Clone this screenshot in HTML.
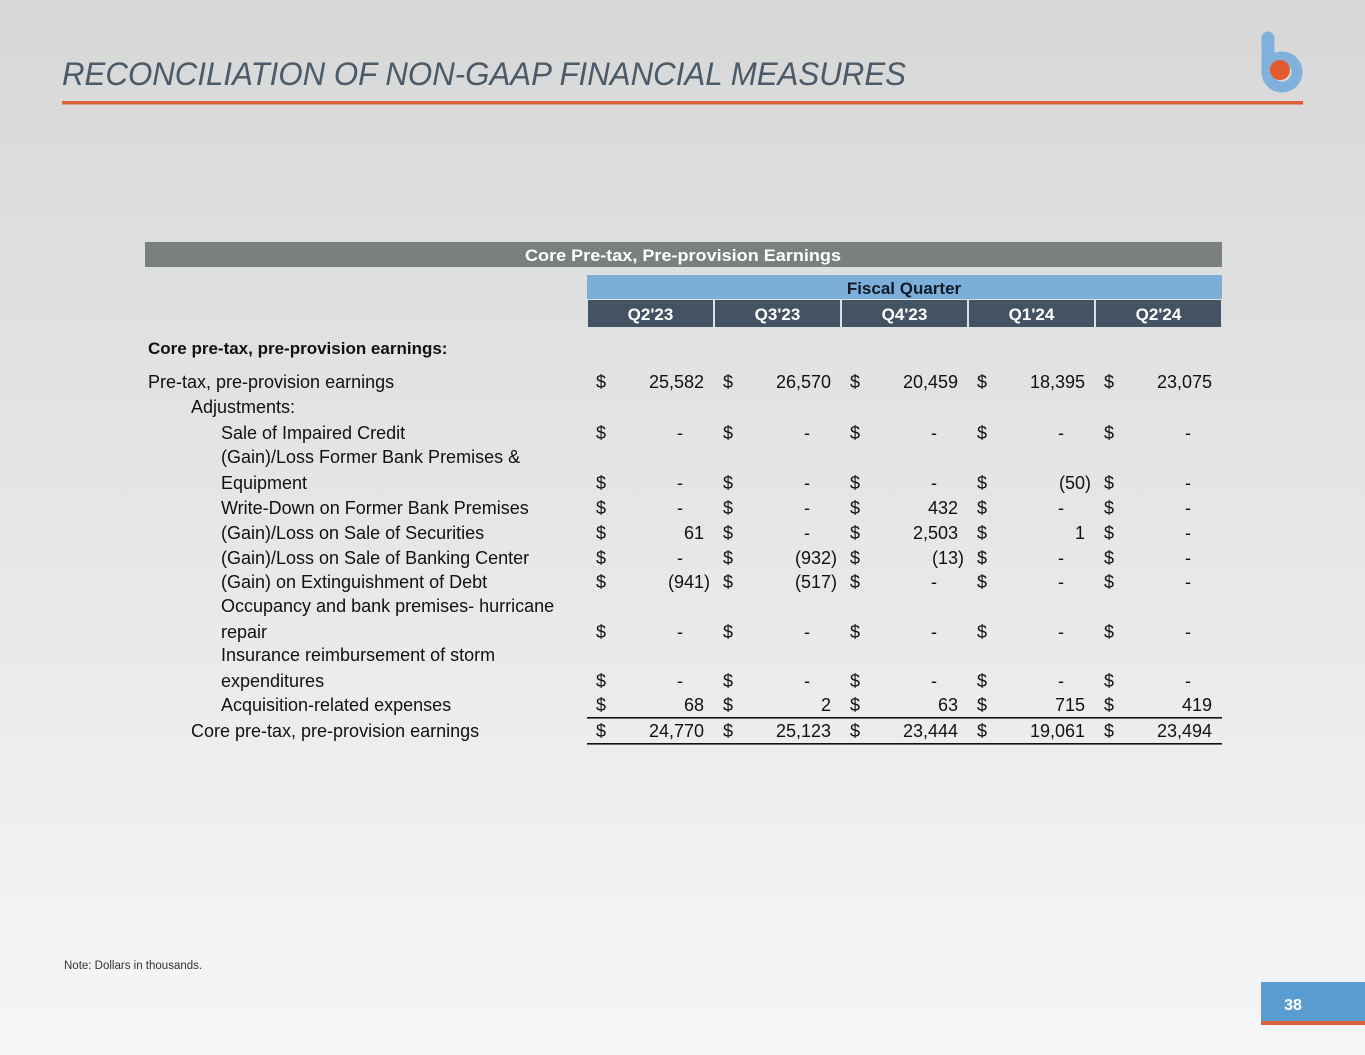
<!DOCTYPE html>
<html><head><meta charset="utf-8"><style>
html,body{margin:0;padding:0;}
body{width:1365px;height:1055px;overflow:hidden;background:linear-gradient(#d7d7d7,#f4f6f8);font-family:"Liberation Sans",sans-serif;}
svg{display:block}
</style></head><body>
<svg id="s" width="1365" height="1055" xmlns="http://www.w3.org/2000/svg" font-family="Liberation Sans, sans-serif">
<text x="62" y="85" font-size="32" font-style="italic" fill="#4a5a68" textLength="844" lengthAdjust="spacingAndGlyphs">RECONCILIATION OF NON-GAAP FINANCIAL MEASURES</text>
<rect x="62" y="101" width="1241" height="3.5" fill="#d9603a"/>
<g>
<line x1="1268" y1="38" x2="1268" y2="70" stroke="#7fb1dc" stroke-width="13" stroke-linecap="round"/>
<circle cx="1282" cy="72" r="15" fill="none" stroke="#7fb1dc" stroke-width="11"/>
<circle cx="1280" cy="70" r="10" fill="#e35a2e"/>
</g>
<rect x="145" y="242" width="1077" height="25" fill="#7a807f"/>
<text x="683" y="261" font-size="17" font-weight="bold" fill="#fff" text-anchor="middle" textLength="316" lengthAdjust="spacingAndGlyphs">Core Pre-tax, Pre-provision Earnings</text>
<rect x="587" y="275" width="635" height="24" fill="#7bafd9"/>
<text x="904" y="294" font-size="17" font-weight="bold" fill="#0f1a28" text-anchor="middle">Fiscal Quarter</text>
<g id="hdr"></g>
<g id="body"></g>
<text x="64" y="969" font-size="11.5" fill="#333">Note: Dollars in thousands.</text>
<rect x="1261" y="982" width="104" height="39" fill="#5c9dd1"/>
<rect x="1261" y="1021" width="104" height="4" fill="#d9603a"/>
<text x="1293" y="1010" font-size="16" font-weight="bold" fill="#fff" text-anchor="middle">38</text>
</svg>
<script>
const quarters=["Q2'23","Q3'23","Q4'23","Q1'24","Q2'24"];
const labels=[
 {t:["Core pre-tax, pre-provision earnings:"],x:148,y:354,b:1},
 {t:["Pre-tax, pre-provision earnings"],x:148,y:388},
 {t:["Adjustments:"],x:191,y:413},
 {t:["Sale of Impaired Credit"],x:221,y:439},
 {t:["(Gain)/Loss Former Bank Premises &","Equipment"],x:221,y:463},
 {t:["Write-Down on Former Bank Premises"],x:221,y:514},
 {t:["(Gain)/Loss on Sale of Securities"],x:221,y:539},
 {t:["(Gain)/Loss on Sale of Banking Center"],x:221,y:564},
 {t:["(Gain) on Extinguishment of Debt"],x:221,y:588},
 {t:["Occupancy and bank premises- hurricane","repair"],x:221,y:612},
 {t:["Insurance reimbursement of storm","expenditures"],x:221,y:661},
 {t:["Acquisition-related expenses"],x:221,y:711},
 {t:["Core pre-tax, pre-provision earnings"],x:191,y:737}
];
const rowY=[388,439,489,514,539,564,588,638,687,711,737];
const preTax=[25582,26570,20459,18395,23075];
const saleImpaired=[0,0,0,0,0];
const premisesEquip=[0,0,0,-50,0];
const writeDown=[0,0,432,0,0];
const securities=[61,0,2503,1,0];
const bankingCenter=[0,-932,-13,0,0];
const extinguish=[-941,-517,0,0,0];
const hurricane=[0,0,0,0,0];
const insurance=[0,0,0,0,0];
const acquisition=[68,2,63,715,419];
const core=[24770,25123,23444,19061,23494];
const series=[preTax,saleImpaired,premisesEquip,writeDown,securities,bankingCenter,extinguish,hurricane,insurance,acquisition,core];
const NS="http://www.w3.org/2000/svg";
const hdr=document.getElementById('hdr'),body=document.getElementById('body');
const colX=i=>587+i*127;
function mk(p,tag,a,txt){const e=document.createElementNS(NS,tag);for(const k in a)e.setAttribute(k,a[k]);if(txt!=null)e.textContent=txt;p.appendChild(e);return e;}
quarters.forEach((q,i)=>{
 const r=mk(hdr,'rect',{x:colX(i)+1,y:300,width:125,height:27,fill:'#435363'});
 
 
 const t=mk(hdr,'text',{x:colX(i)+63.5,y:320,'font-size':17,'font-weight':'bold',fill:'#fff','text-anchor':'middle'},q);
 
 
});
labels.forEach(l=>{
 l.t.forEach((s,j)=>{
  const t=mk(body,'text',{x:l.x,y:l.y+j*26,'font-size':l.b?17:18,'font-weight':l.b?'bold':'normal',fill:'#111'},s);
  
  
 });
});
const fmt=v=>v===0?'-':(v<0?'('+Math.abs(v).toLocaleString('en-US')+')':v.toLocaleString('en-US'));
series.forEach((arr,r)=>{
 arr.forEach((v,i)=>{
  const y=rowY[r];
  const d=mk(body,'text',{x:colX(i)+14,y:y,'font-size':18,fill:'#111','text-anchor':'middle'},'$');
  
  
  let x=colX(i)+117, anchor='end';
  if(v===0){x=colX(i)+93;anchor='middle';}
  else if(v<0){x=colX(i)+123;}
  const t=mk(body,'text',{x:x,y:y,'font-size':18,fill:'#111','text-anchor':anchor},fmt(v));
  
  
 });
});
[718,744].forEach(y=>{
 const l=mk(body,'rect',{x:587,y:y-1,width:635,height:1.6,fill:'#111'});
 
 
});
</script>
</body></html>
